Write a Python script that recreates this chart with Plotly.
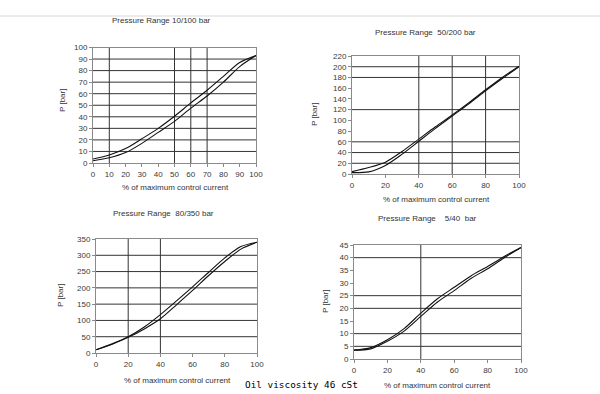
import plotly.graph_objects as go

W, H = 600, 394

# ---------------- data ----------------
pct = [0, 10, 20, 30, 40, 50, 60, 70, 80, 90, 100]

p1_up = [3.5, 7, 12.5, 21, 30, 40.5, 52, 63, 75, 87, 93]
p1_dn = [2, 4.5, 9, 17, 26.5, 36, 47.5, 58, 70, 83.5, 93]
p1_yticks = [0, 10, 20, 30, 40, 50, 60, 70, 80, 90, 100]
p1_xticks = [0, 10, 20, 30, 40, 50, 60, 70, 80, 90, 100]
p1_ygrid = [10, 20, 30, 40, 50, 60, 70, 80, 90]
p1_xgrid = [10, 50, 60, 70]

p2_up = [4.5, 12, 22, 42, 65, 88, 110, 133, 157, 180, 201]
p2_dn = [2.5, 4, 16, 37, 61, 85, 108, 131, 155, 178, 200]
p2_yticks = [0, 20, 40, 60, 80, 100, 120, 140, 160, 180, 200, 220]
p2_xticks = [0, 20, 40, 60, 80, 100]
p2_ygrid = [20, 40, 60, 120, 180, 200]
p2_xgrid = [40, 60, 80]

p3_up = [10, 28, 50, 80, 118, 160, 203, 248, 292, 327, 340]
p3_dn = [10, 27, 48, 74, 105, 148, 192, 238, 281, 319, 340]
p3_yticks = [0, 50, 100, 150, 200, 250, 300, 350]
p3_xticks = [0, 20, 40, 60, 80, 100]
p3_ygrid = [50, 100, 150, 200, 250, 300]
p3_xgrid = [20, 40]

p4_up = [3.5, 4.5, 7.6, 12, 18.1, 23.8, 28.3, 32.8, 36.5, 40.5, 44]
p4_dn = [3.5, 4, 7, 11, 16.8, 22.5, 27, 31.8, 35.6, 40, 44]
p4_yticks = [0, 5, 10, 15, 20, 25, 30, 35, 40, 45]
p4_xticks = [0, 20, 40, 60, 80, 100]
p4_ygrid = [5, 10, 20, 25, 40]
p4_xgrid = [40]

titles = ["Pressure Range 10/100 bar", "Pressure Range  50/200 bar",
          "Pressure Range  80/350 bar", "Pressure Range    5/40  bar"]
xlabel = "% of maximum control current"
ylabel = "P [bar]"
note = "Oil viscosity 46 cSt"

# ---------------- layout (pixel boxes: x0, x1, ytop, ybottom) ----------------
boxes = [(93, 256, 47.5, 163), (352, 519, 56, 174),
         (96, 257, 239, 353), (354, 521, 245, 359)]
panels = [
    (p1_up, p1_dn, p1_yticks, p1_xticks, p1_ygrid, p1_xgrid, 100),
    (p2_up, p2_dn, p2_yticks, p2_xticks, p2_ygrid, p2_xgrid, 220),
    (p3_up, p3_dn, p3_yticks, p3_xticks, p3_ygrid, p3_xgrid, 350),
    (p4_up, p4_dn, p4_yticks, p4_xticks, p4_ygrid, p4_xgrid, 45),
]
title_pos = [(161, 21), (425, 32), (163, 214), (427, 219)]
xlab_pos = [(175, 187), (436, 199), (177, 380), (437, 385)]
ylab_pos = [(63, 101), (315, 115), (60, 296), (325, 302)]

def fx(px):
    return px / W

def fy(py):
    return 1 - py / H

fig = go.Figure()
FONT = "Liberation Sans, Arial, sans-serif"
tickfont = dict(family=FONT, size=8, color="#3a3a3a")
shapes = []
annotations = []

def label(text, px, py, size=8, angle=0, family=FONT, color="#333", xanchor="center"):
    annotations.append(dict(text=text, x=fx(px), y=fy(py), xref="paper", yref="paper",
                            xanchor=xanchor, yanchor="middle", showarrow=False,
                            textangle=angle, font=dict(family=family, size=size, color=color)))

for i, (box, pan) in enumerate(zip(boxes, panels)):
    up, dn, yt, xt, yg, xg, ymax = pan
    n = "" if i == 0 else str(i + 1)
    xa, ya = "x" + n, "y" + n
    for ys in (up, dn):
        fig.add_trace(go.Scatter(x=pct, y=ys, mode="lines", xaxis=xa, yaxis=ya,
                                 line=dict(color="#111111", width=1.1, shape="spline",
                                           smoothing=0.8),
                                 showlegend=False, hoverinfo="skip"))
    x0, x1, yt0, yb0 = box
    common = dict(showgrid=False, zeroline=False, showline=True, mirror=True,
                  linecolor="#8a8a8a", linewidth=1, ticks="outside", ticklen=3,
                  tickcolor="#8a8a8a", tickfont=tickfont, fixedrange=True,
                  automargin=False)
    fig.layout["xaxis" + n] = dict(domain=[fx(x0), fx(x1)], range=[0, 100],
                                   tickvals=xt, anchor=ya, **common)
    fig.layout["yaxis" + n] = dict(domain=[fy(yb0), fy(yt0)], range=[0, ymax],
                                   tickvals=yt, anchor=xa, **common)
    for g in yg:
        shapes.append(dict(type="line", xref=xa + " domain", yref=ya, x0=0, x1=1,
                           y0=g, y1=g, line=dict(color="#333333", width=1), layer="below"))
    for g in xg:
        shapes.append(dict(type="line", xref=xa, yref=ya + " domain", x0=g, x1=g,
                           y0=0, y1=1, line=dict(color="#333333", width=1), layer="below"))
    label(titles[i], *title_pos[i])
    label(xlabel, *xlab_pos[i])
    label(ylabel, *ylab_pos[i], angle=-90)

label(note, 243, 384, size=9.4, family="DejaVu Sans Mono, monospace", color="#000",
      xanchor="left")

shapes.append(dict(type="line", xref="paper", yref="paper", x0=0, x1=1,
                   y0=fy(16), y1=fy(16), line=dict(color="#d8d8d8", width=1)))

fig.update_layout(width=W, height=H, margin=dict(l=0, r=0, t=0, b=0, autoexpand=False),
                  paper_bgcolor="white", plot_bgcolor="white",
                  shapes=shapes, annotations=annotations, showlegend=False)

fig.write_html("out.html", config={"displayModeBar": False},
               post_script="document.body.style.margin='0px';document.body.style.overflow='hidden';")
